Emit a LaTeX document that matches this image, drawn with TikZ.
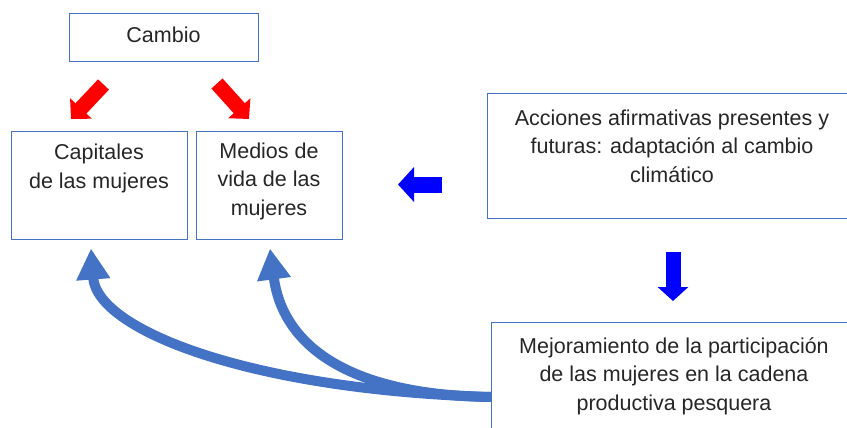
\documentclass[tikz,border=0pt]{standalone}
\usepackage{fontspec}
\setmainfont{Liberation Sans}
\usetikzlibrary{arrows.meta}
\definecolor{boxblue}{RGB}{68,114,196}
\definecolor{txtgray}{RGB}{38,38,38}

\begin{document}
\begin{tikzpicture}[x=1pt, y=-1pt,
    font=\fontsize{21.5}{28.5}\selectfont, text=txtgray,
    box/.style={draw=boxblue, line width=1pt, inner sep=0pt, align=center, anchor=base},
    redarrow/.style={red, line width=15pt, -{Triangle[length=14.5pt, width=29pt]}},
    bluearrow/.style={blue, line width=16pt, -{Triangle[length=16pt, width=34pt]}},
    curvearrow/.style={boxblue, line width=10pt, -{Triangle[length=31pt, width=32pt]}}]
   \useasboundingbox (0,0) rectangle (847,428);

   \node[box, minimum width=189pt, text height=29pt, text depth=19pt] (cambio) at (163.5,43) {Cambio};
   \node[box, minimum width=176pt, text height=57pt, text depth=51pt] (capitales) at (99,188) {Capitales\\de las mujeres};
   \node[box, minimum width=146pt, text height=84pt, text depth=24pt] (medios) at (269,215) {Medios de\\vida de las\\mujeres};
   \node[box, minimum width=370pt, text height=88pt, text depth=36pt] (acciones) at (672,182) {Acciones afirmativas presentes y\\futuras: adaptaci\'on al cambio\\clim\'atico};
   \node[box, minimum width=366pt, text height=88pt, text depth=30pt] (mejora) at (674,410) {Mejoramiento de la participaci\'on\\de las mujeres en la cadena\\productiva pesquera};

   % block arrows
   \coordinate (cambio_l) at (103.5,84.5);
   \coordinate (capitales_in) at (71,119);
   \coordinate (cambio_r) at (217,83.5);
   \coordinate (medios_in) at (249,119);
   \coordinate (acciones_l) at (442,184.5);
   \coordinate (acciones_out) at (398,184.5);
   \coordinate (acciones_d) at (673,252);
   \coordinate (mejora_in) at (673,301);
   \draw[redarrow] (cambio_l) -- (capitales_in);
   \draw[redarrow] (cambio_r) -- (medios_in);
   \draw[bluearrow] (acciones_l) -- (acciones_out);
   \draw[bluearrow, line width=15pt, -{Triangle[length=14pt, width=30pt]}] (acciones_d) -- (mejora_in);

   % curved arrows
   \coordinate (trunk) at (491,397);
   \draw[curvearrow] (trunk) .. controls (250,390) and (97,330) .. ([xshift=-8pt, yshift=-9pt]capitales.south);
   \draw[curvearrow] (trunk) .. controls (340,395) and (282,340) .. ([xshift=1pt, yshift=-9pt]medios.south);
\end{tikzpicture}
\end{document}
